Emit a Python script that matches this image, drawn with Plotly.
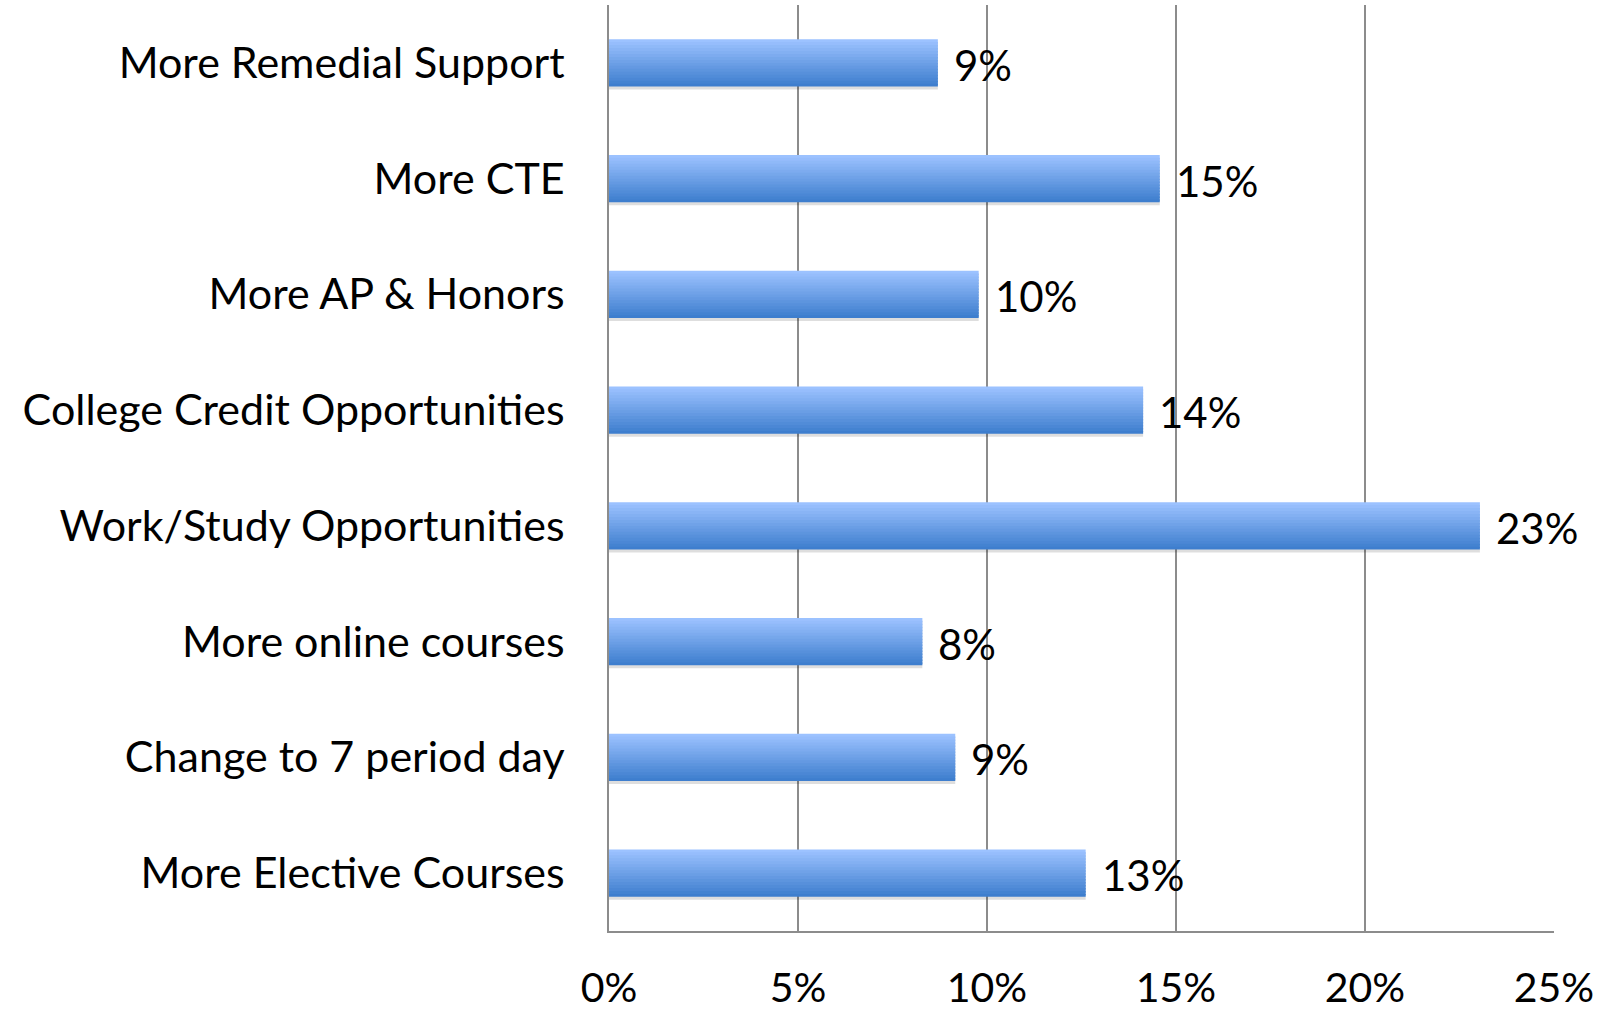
import plotly.graph_objects as go

# data
categories = [
    'More Remedial Support', 'More CTE', 'More AP & Honors',
    'College Credit Opportunities', 'Work/Study Opportunities',
    'More online courses', 'Change to 7 period day', 'More Elective Courses'
]
values = [0.087, 0.1457, 0.0978, 0.1413, 0.2304, 0.0829, 0.0916, 0.1261]
labels = ['9%', '15%', '10%', '14%', '23%', '8%', '9%', '13%']

BAR_W = 0.41
N_STRIPES = 16
TOP = (156, 194, 255)
BOTTOM = (62, 126, 206)
FONT_SIZE = 42


def blend(a, b, t):
    return 'rgb(%d,%d,%d)' % tuple(round(a[k] + (b[k] - a[k]) * t) for k in range(3))


fig = go.Figure()

# soft shadow under the bars
fig.add_trace(go.Bar(
    x=values, y=categories, orientation='h',
    width=BAR_W, offset=-BAR_W / 2 + 0.025,
    marker=dict(color='rgba(0,0,0,0.13)', line=dict(width=0)),
    hoverinfo='skip', showlegend=False,
))

# gradient bars built from horizontal stripes
sw = BAR_W / N_STRIPES
for i in range(N_STRIPES):
    fig.add_trace(go.Bar(
        x=values, y=categories, orientation='h',
        width=sw * 1.5 if i < N_STRIPES - 1 else sw,
        offset=-BAR_W / 2 + i * sw,
        marker=dict(color=blend(TOP, BOTTOM, i / (N_STRIPES - 1)), line=dict(width=0)),
        hoverinfo='skip', showlegend=False,
    ))

# value labels next to the bar ends
for cat, val, lab in zip(categories, values, labels):
    fig.add_annotation(
        x=val, y=cat, text=lab, showarrow=False,
        xanchor='left', xshift=14, yshift=-2,
        font=dict(size=FONT_SIZE, color='black'),
    )

fig.update_layout(
    barmode='overlay',
    width=1612, height=1013,
    margin=dict(l=609, r=58, t=5, b=82, autoexpand=False),
    paper_bgcolor='white', plot_bgcolor='white',
    font=dict(family='Lato, Open Sans, sans-serif', color='black'),
)
fig.update_xaxes(
    range=[0, 0.25], dtick=0.05, tickformat='.0%',
    showgrid=True, gridcolor='#8c8c8c', gridwidth=1.5,
    showline=True, linecolor='#8c8c8c', linewidth=1.5,
    zeroline=False, ticks='', tickfont=dict(size=41),
    ticklabelstandoff=20, automargin=False,
)
fig.update_yaxes(
    autorange='reversed', showgrid=False,
    showline=True, linecolor='#8c8c8c', linewidth=1.5,
    ticks='', tickfont=dict(size=43), ticklabelstandoff=34,
    automargin=False,
)

# page body has a default margin; drop it so the figure sits at the corner
fig.write_html('out.html', config={'displayModeBar': False},
               post_script="document.body.style.margin='0';")
